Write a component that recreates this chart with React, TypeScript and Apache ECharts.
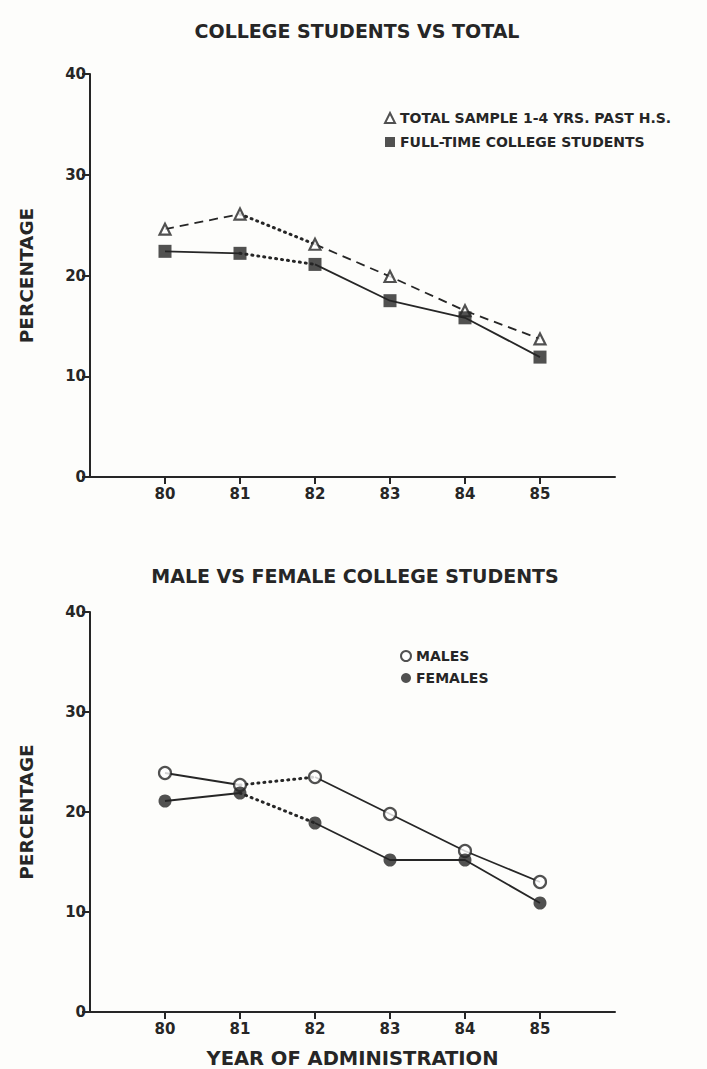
import React, { useEffect, useRef } from "react";
import * as echarts from "echarts";

const years = [80, 81, 82, 83, 84, 85];
const yTicks = [0, 10, 20, 30, 40];

const totalSample = [24.6, 26.1, 23.1, 19.9, 16.5, 13.7];
const fullTime = [22.4, 22.2, 21.1, 17.5, 15.8, 11.9];
const males = [23.9, 22.7, 23.5, 19.8, 16.1, 13.0];
const females = [21.1, 21.9, 18.9, 15.2, 15.2, 10.9];

const topTitle = "COLLEGE STUDENTS VS TOTAL";
const bottomTitle = "MALE VS FEMALE COLLEGE STUDENTS";
const yName = "PERCENTAGE";
const xName = "YEAR OF ADMINISTRATION";
const nameTotal = "TOTAL SAMPLE 1-4 YRS. PAST H.S.";
const nameFull = "FULL-TIME COLLEGE STUDENTS";
const nameMales = "MALES";
const nameFemales = "FEMALES";

// segments: [fromIndex, toIndex, lineType]
const totalSegs: [number, number, string][] = [[0, 1, "dashed"], [1, 2, "dotted"], [2, 5, "dashed"]];
const fullSegs: [number, number, string][] = [[0, 1, "solid"], [1, 2, "dotted"], [2, 5, "solid"]];
const maleSegs: [number, number, string][] = [[0, 1, "solid"], [1, 2, "dotted"], [2, 5, "solid"]];
const femaleSegs: [number, number, string][] = [[0, 1, "solid"], [1, 2, "dotted"], [2, 5, "solid"]];

const INK = "#262626";
const FONT = "'DejaVu Sans', sans-serif";

function pts(vals: number[], a = 0, b = vals.length - 1) {
  const out: number[][] = [];
  for (let i = a; i <= b; i++) out.push([years[i], vals[i]]);
  return out;
}

function lineSegs(vals: number[], segs: [number, number, string][], axis: number) {
  return segs.map(([a, b, t]) => ({
    type: "line",
    xAxisIndex: axis,
    yAxisIndex: axis,
    data: pts(vals, a, b),
    symbol: "none",
    silent: true,
    z: 2,
    lineStyle: {
      color: INK,
      width: t === "dotted" ? 3 : 1.8,
      type: t === "dotted" ? [1, 5] : t === "dashed" ? [9, 6] : "solid",
      cap: t === "dotted" ? "round" : "butt",
    },
  }));
}

function markers(name: string, vals: number[], axis: number, symbol: string, size: number, hollow: boolean) {
  return {
    type: "scatter",
    name,
    xAxisIndex: axis,
    yAxisIndex: axis,
    data: pts(vals),
    symbol,
    symbolSize: size,
    z: 5,
    itemStyle: hollow
      ? { color: "#ffffff", borderColor: INK, borderWidth: 2.2 }
      : { color: INK, borderColor: INK, borderWidth: 0 },
  };
}

function xAxis(gridIndex: number, withName: boolean) {
  return {
    type: "value",
    gridIndex,
    min: 79,
    max: 86,
    interval: 1,
    splitLine: { show: false },
    axisLine: { lineStyle: { color: INK, width: 2 } },
    axisTick: { length: 7, lineStyle: { color: INK, width: 2 }, customValues: years },
    axisLabel: {
      color: INK,
      fontFamily: FONT,
      fontWeight: "bold",
      fontSize: 15,
      margin: 9,
      customValues: years,
    },
    name: withName ? xName : "",
    nameLocation: "middle",
    nameGap: 36,
    nameTextStyle: { color: INK, fontFamily: FONT, fontWeight: "bold", fontSize: 19.5 },
  };
}

function yAxis(gridIndex: number) {
  return {
    type: "value",
    gridIndex,
    min: 0,
    max: 40,
    interval: 10,
    splitLine: { show: false },
    axisLine: { show: true, lineStyle: { color: INK, width: 2 } },
    axisTick: { show: true, length: 8, lineStyle: { color: INK, width: 2 }, customValues: yTicks },
    axisLabel: {
      color: INK,
      fontFamily: FONT,
      fontWeight: "bold",
      fontSize: 15,
      margin: 4,
      customValues: yTicks,
    },
    name: yName,
    nameLocation: "middle",
    nameRotate: 90,
    nameGap: 54,
    nameTextStyle: { color: INK, fontFamily: FONT, fontWeight: "bold", fontSize: 18.5 },
  };
}

export default function App() {
  const ref = useRef<HTMLDivElement>(null);
  useEffect(() => {
    document.body.style.margin = "0";
    const chart = echarts.init(ref.current!, null, { renderer: "svg" });
    const legendText = { color: INK, fontFamily: FONT, fontWeight: "bold", fontSize: 14 };
    chart.setOption({
      animation: false,
      backgroundColor: "#fdfdfb",
      title: [
        {
          text: topTitle,
          left: 352,
          top: 16,
          textAlign: "center",
          textStyle: { color: INK, fontFamily: FONT, fontWeight: "bold", fontSize: 19 },
        },
        {
          text: bottomTitle,
          left: 350,
          top: 561,
          textAlign: "center",
          textStyle: { color: INK, fontFamily: FONT, fontWeight: "bold", fontSize: 19 },
        },
      ],
      legend: [
        {
          orient: "vertical",
          left: 379,
          top: 106,
          itemWidth: 10,
          itemHeight: 10,
          itemGap: 10,
          selectedMode: false,
          textStyle: legendText,
          data: [nameTotal, nameFull],
        },
        {
          orient: "vertical",
          left: 395,
          top: 644,
          itemWidth: 10,
          itemHeight: 10,
          itemGap: 8,
          selectedMode: false,
          textStyle: legendText,
          data: [nameMales, nameFemales],
        },
      ],
      grid: [
        { left: 90, top: 74, width: 525, height: 403 },
        { left: 90, top: 612, width: 525, height: 400 },
      ],
      xAxis: [xAxis(0, false), xAxis(1, true)],
      yAxis: [yAxis(0), yAxis(1)],
      series: [
        ...lineSegs(totalSample, totalSegs, 0),
        ...lineSegs(fullTime, fullSegs, 0),
        ...lineSegs(males, maleSegs, 1),
        ...lineSegs(females, femaleSegs, 1),
        markers(nameTotal, totalSample, 0, "triangle", 11, true),
        markers(nameFull, fullTime, 0, "rect", 13, false),
        markers(nameMales, males, 1, "circle", 12, true),
        markers(nameFemales, females, 1, "circle", 13, false),
      ],
    });
    return () => chart.dispose();
  }, []);
  return <div ref={ref} style={{ width: 707, height: 1069 }} />;
}
